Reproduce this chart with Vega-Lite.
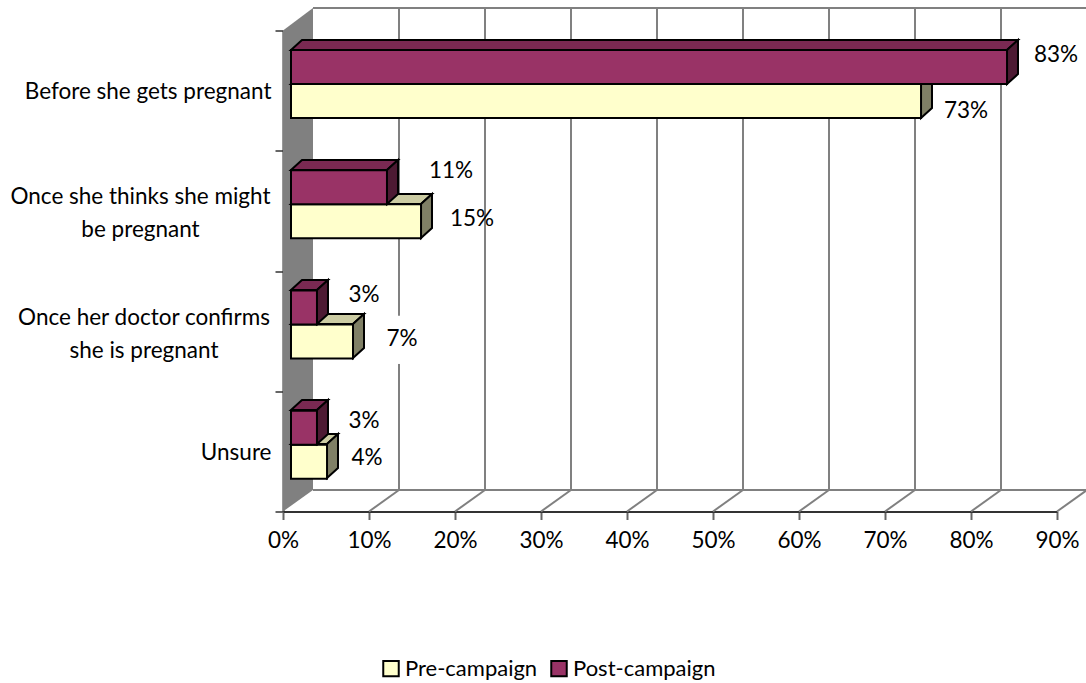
{
"$schema":"https://vega.github.io/schema/vega-lite/v6.json",
"width":774,"height":481,
"autosize":{"type":"none"},
"padding":{"left":283,"top":30.5,"right":29,"bottom":171.5},
"background":"white",
"config":{"view":{"stroke":null},"font":"Lato"},
"datasets":{
"bars":[
{"category":"Before she gets pregnant","series":"Pre-campaign","value":73.26},
{"category":"Before she gets pregnant","series":"Post-campaign","value":83.26},
{"category":"Once she thinks she might be pregnant","series":"Pre-campaign","value":15.12},
{"category":"Once she thinks she might be pregnant","series":"Post-campaign","value":11.16},
{"category":"Once her doctor confirms she is pregnant","series":"Pre-campaign","value":7.21},
{"category":"Once her doctor confirms she is pregnant","series":"Post-campaign","value":3.02},
{"category":"Unsure","series":"Pre-campaign","value":4.19},
{"category":"Unsure","series":"Post-campaign","value":3.02}
],
"wall":[{"x":0,"y":0,"y2":4},{"x":3.488,"y":0.179,"y2":4.187}],
"frame":[
{"x":3.488,"x2":93.488,"y":4.187,"y2":4.187},
{"x":3.488,"x2":93.488,"y":0.179,"y2":0.179},
{"x":13.488,"x2":13.488,"y":1.628,"y2":4.187},
{"x":13.488,"x2":13.488,"y":0.179,"y2":1.227},
{"x":23.488,"x2":23.488,"y":0.179,"y2":4.187},
{"x":33.488,"x2":33.488,"y":0.179,"y2":4.187},
{"x":43.488,"x2":43.488,"y":0.179,"y2":4.187},
{"x":53.488,"x2":53.488,"y":0.179,"y2":4.187},
{"x":63.488,"x2":63.488,"y":0.179,"y2":4.187},
{"x":73.488,"x2":73.488,"y":0.179,"y2":4.187},
{"x":83.488,"x2":83.488,"y":0.179,"y2":4.187},
{"x":93.488,"x2":93.488,"y":0.179,"y2":4.187},
{"x":10,"x2":13.488,"y":0,"y2":0.179},
{"x":20,"x2":23.488,"y":0,"y2":0.179},
{"x":30,"x2":33.488,"y":0,"y2":0.179},
{"x":40,"x2":43.488,"y":0,"y2":0.179},
{"x":50,"x2":53.488,"y":0,"y2":0.179},
{"x":60,"x2":63.488,"y":0,"y2":0.179},
{"x":70,"x2":73.488,"y":0,"y2":0.179},
{"x":80,"x2":83.488,"y":0,"y2":0.179},
{"x":90,"x2":93.488,"y":0,"y2":0.179}
],
"tops":[
{"bar":"a1","series":"Post-campaign","y":3.838,"x":0.93,"x2":84.186},{"bar":"a1","series":"Post-campaign","y":3.921,"x":2.209,"x2":85.465},
{"bar":"a2","series":"Post-campaign","y":2.84,"x":0.93,"x2":12.093},{"bar":"a2","series":"Post-campaign","y":2.923,"x":2.209,"x2":13.372},
{"bar":"a3","series":"Post-campaign","y":1.842,"x":0.93,"x2":3.953},{"bar":"a3","series":"Post-campaign","y":1.925,"x":2.209,"x2":5.232},
{"bar":"a4","series":"Post-campaign","y":0.844,"x":0.93,"x2":3.953},{"bar":"a4","series":"Post-campaign","y":0.927,"x":2.209,"x2":5.232},
{"bar":"b1","series":"Pre-campaign","y":3.555,"x":0.93,"x2":74.186},{"bar":"b1","series":"Pre-campaign","y":3.638,"x":2.209,"x2":75.465},
{"bar":"b2","series":"Pre-campaign","y":2.557,"x":0.93,"x2":16.047},{"bar":"b2","series":"Pre-campaign","y":2.64,"x":2.209,"x2":17.326},
{"bar":"b3","series":"Pre-campaign","y":1.559,"x":0.93,"x2":8.14},{"bar":"b3","series":"Pre-campaign","y":1.642,"x":2.209,"x2":9.419},
{"bar":"b4","series":"Pre-campaign","y":0.561,"x":0.93,"x2":5.116},{"bar":"b4","series":"Pre-campaign","y":0.644,"x":2.209,"x2":6.395}
],
"sides":[
{"bar":"a1","series":"Post-campaign","x":84.186,"y":3.555,"y2":3.838},{"bar":"a1","series":"Post-campaign","x":85.465,"y":3.638,"y2":3.921},
{"bar":"a2","series":"Post-campaign","x":12.093,"y":2.557,"y2":2.84},{"bar":"a2","series":"Post-campaign","x":13.372,"y":2.64,"y2":2.923},
{"bar":"a3","series":"Post-campaign","x":3.953,"y":1.559,"y2":1.842},{"bar":"a3","series":"Post-campaign","x":5.232,"y":1.642,"y2":1.925},
{"bar":"a4","series":"Post-campaign","x":3.953,"y":0.561,"y2":0.844},{"bar":"a4","series":"Post-campaign","x":5.232,"y":0.644,"y2":0.927},
{"bar":"b1","series":"Pre-campaign","x":74.186,"y":3.272,"y2":3.555},{"bar":"b1","series":"Pre-campaign","x":75.465,"y":3.355,"y2":3.638},
{"bar":"b2","series":"Pre-campaign","x":16.047,"y":2.274,"y2":2.557},{"bar":"b2","series":"Pre-campaign","x":17.326,"y":2.357,"y2":2.64},
{"bar":"b3","series":"Pre-campaign","x":8.14,"y":1.276,"y2":1.559},{"bar":"b3","series":"Pre-campaign","x":9.419,"y":1.359,"y2":1.642},
{"bar":"b4","series":"Pre-campaign","x":5.116,"y":0.278,"y2":0.561},{"bar":"b4","series":"Pre-campaign","x":6.395,"y":0.361,"y2":0.644}
],
"labels":[
{"label":"83%","x":89.88,"y":3.796},
{"label":"73%","x":79.42,"y":3.331},
{"label":"11%","x":19.53,"y":2.832},
{"label":"15%","x":21.98,"y":2.432},
{"label":"3%","x":9.42,"y":1.8},
{"label":"7%","x":13.84,"y":1.435},
{"label":"3%","x":9.42,"y":0.753},
{"label":"4%","x":9.77,"y":0.445}
]
},
"resolve":{"scale":{"y":"independent"}},
"layer":[
{"data":{"name":"wall"},"mark":{"type":"area","orient":"vertical","fill":"#808080","clip":false},
 "encoding":{
  "x":{"field":"x","type":"quantitative","scale":{"domain":[0,90],"nice":false,"zero":false},
   "axis":{"values":[0,10,20,30,40,50,60,70,80,90],"labelExpr":"datum.value+'%'","title":null,"grid":false,"domainColor":"#333333","domainWidth":2,"tickColor":"#666666","tickWidth":2,"tickSize":8,"labelFontSize":22.5,"labelColor":"#000000","labelPadding":10,"labelFlush":false,"labelOverlap":false,"labelFont":"Lato"}},
  "y":{"field":"y","type":"quantitative","scale":{"domain":[0,4],"nice":false,"zero":false},
   "axis":{"orient":"left","values":[0,1,2,3,4],"labels":false,"title":null,"grid":false,"domainColor":"#333333","domainWidth":2,"tickColor":"#666666","tickWidth":2,"tickSize":8}},
  "y2":{"field":"y2"}}},
{"data":{"name":"frame"},"mark":{"type":"rule","color":"#808080","strokeWidth":2,"clip":false},
 "encoding":{
  "x":{"field":"x","type":"quantitative"},"x2":{"field":"x2"},
  "y":{"field":"y","type":"quantitative","scale":{"domain":[0,4],"nice":false,"zero":false},"axis":null},
  "y2":{"field":"y2"}}},
{"data":{"name":"tops"},"transform":[{"filter":"datum.series=='Pre-campaign'"}],
 "mark":{"type":"area","orient":"horizontal","fill":"#CCCCA3","stroke":"#000000","strokeWidth":2},
 "encoding":{"detail":{"field":"bar"},"y":{"field":"y","type":"quantitative","scale":{"domain":[0,4],"nice":false,"zero":false},"axis":null},"x":{"field":"x","type":"quantitative"},"x2":{"field":"x2"}}},
{"data":{"name":"sides"},"transform":[{"filter":"datum.series=='Pre-campaign'"}],
 "mark":{"type":"area","orient":"vertical","fill":"#808066","stroke":"#000000","strokeWidth":2},
 "encoding":{"detail":{"field":"bar"},"x":{"field":"x","type":"quantitative"},"y":{"field":"y","type":"quantitative","scale":{"domain":[0,4],"nice":false,"zero":false},"axis":null},"y2":{"field":"y2"}}},
{"data":{"name":"bars"},"transform":[{"filter":"datum.series=='Pre-campaign'"}],
 "mark":{"type":"bar","stroke":"#000000","strokeWidth":2,"xOffset":8},
 "encoding":{
  "x":{"field":"value","type":"quantitative"},
  "y":{"field":"category","type":"nominal","sort":null,
   "scale":{"domain":["Before she gets pregnant","Once she thinks she might be pregnant","Once her doctor confirms she is pregnant","Unsure"],"range":[-6.6,474.4],"paddingInner":0.4345,"paddingOuter":0.217},
   "axis":{"orient":"left","title":null,"ticks":false,"domain":false,"labelFontSize":22.5,"labelColor":"#000000","labelPadding":12,"labelOffset":8,"labelLimit":400,"labelFont":"Lato","labelExpr":"datum.label=='Unsure'||datum.label=='Before she gets pregnant'?datum.label:''"}},
  "yOffset":{"field":"series","type":"nominal","scale":{"domain":["Post-campaign","Pre-campaign"],"paddingInner":0,"paddingOuter":0}},
  "color":{"field":"series","type":"nominal",
   "scale":{"domain":["Pre-campaign","Post-campaign"],"range":["#FFFFCC","#993366"]},
   "legend":{"title":null,"orient":"none","legendX":97,"legendY":627,"direction":"horizontal","symbolType":"square","symbolSize":240,"symbolStrokeColor":"#000000","symbolStrokeWidth":2,"symbolOpacity":1,"labelFontSize":22,"labelColor":"#000000","labelFont":"Lato","columnPadding":9,"labelOffset":3,"labelLimit":300}}}},
{"data":{"name":"tops"},"transform":[{"filter":"datum.series=='Post-campaign'"}],
 "mark":{"type":"area","orient":"horizontal","fill":"#7A2952","stroke":"#000000","strokeWidth":2},
 "encoding":{"detail":{"field":"bar"},"y":{"field":"y","type":"quantitative","scale":{"domain":[0,4],"nice":false,"zero":false},"axis":null},"x":{"field":"x","type":"quantitative"},"x2":{"field":"x2"}}},
{"data":{"name":"sides"},"transform":[{"filter":"datum.series=='Post-campaign'"}],
 "mark":{"type":"area","orient":"vertical","fill":"#4D1A33","stroke":"#000000","strokeWidth":2},
 "encoding":{"detail":{"field":"bar"},"x":{"field":"x","type":"quantitative"},"y":{"field":"y","type":"quantitative","scale":{"domain":[0,4],"nice":false,"zero":false},"axis":null},"y2":{"field":"y2"}}},
{"data":{"name":"bars"},"transform":[{"filter":"datum.series=='Post-campaign'"}],
 "mark":{"type":"bar","stroke":"#000000","strokeWidth":2,"xOffset":8},
 "encoding":{
  "x":{"field":"value","type":"quantitative"},
  "y":{"field":"category","type":"nominal","sort":null,
   "scale":{"domain":["Before she gets pregnant","Once she thinks she might be pregnant","Once her doctor confirms she is pregnant","Unsure"],"range":[-6.6,474.4],"paddingInner":0.4345,"paddingOuter":0.217},"axis":null},
  "yOffset":{"field":"series","type":"nominal","scale":{"domain":["Post-campaign","Pre-campaign"],"paddingInner":0,"paddingOuter":0}},
  "color":{"field":"series","type":"nominal"}}},
{"data":{"name":"labels"},"mark":{"type":"text","fontSize":22.5,"font":"Lato","color":"#000000","align":"center","baseline":"middle","clip":false},
 "encoding":{"x":{"field":"x","type":"quantitative"},"y":{"field":"y","type":"quantitative","scale":{"domain":[0,4],"nice":false,"zero":false},"axis":null},"text":{"field":"label"}}},
{"data":{"name":"bars"},"transform":[{"filter":"datum.category=='Once she thinks she might be pregnant'&&datum.series=='Pre-campaign'"}],
 "mark":{"type":"text","text":["Once she thinks she might","be pregnant"],"lineHeight":33,"fontSize":22.5,"font":"Lato","color":"#000000","align":"center","baseline":"middle","dx":-142.5,"dy":-14},
 "encoding":{"x":{"datum":0,"type":"quantitative"},"y":{"field":"category","type":"nominal","sort":null,"scale":{"domain":["Before she gets pregnant","Once she thinks she might be pregnant","Once her doctor confirms she is pregnant","Unsure"],"paddingInner":0.4345,"paddingOuter":0.217},"axis":null}}},
{"data":{"name":"bars"},"transform":[{"filter":"datum.category=='Once her doctor confirms she is pregnant'&&datum.series=='Pre-campaign'"}],
 "mark":{"type":"text","text":["Once her doctor confirms","she is pregnant"],"lineHeight":33,"fontSize":22.5,"font":"Lato","color":"#000000","align":"center","baseline":"middle","dx":-139,"dy":-13},
 "encoding":{"x":{"datum":0,"type":"quantitative"},"y":{"field":"category","type":"nominal","sort":null,"scale":{"domain":["Before she gets pregnant","Once she thinks she might be pregnant","Once her doctor confirms she is pregnant","Unsure"],"paddingInner":0.4345,"paddingOuter":0.217},"axis":null}}}
]
}
